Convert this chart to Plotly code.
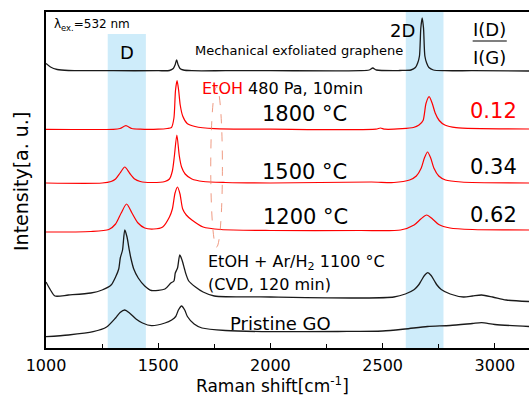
import plotly.graph_objects as go

# ---- data (Raman shift in cm-1, intensity in arbitrary offset units) ----
x_graphene = [1000, 1020, 1050, 1100, 1300, 1500, 1550, 1567, 1575, 1582, 1589, 1597, 1612, 1650, 1800, 2000,
              2400, 2440, 2456, 2472, 2550, 2576, 2626, 2646, 2656, 2664, 2670, 2676, 2682, 2688, 2696, 2706,
              2726, 2776, 2900, 3152]
y_graphene = [284.5, 281, 278.5, 277.5, 277.3, 277.3, 277.5, 279.5, 283, 288, 283, 279.5, 278, 277.3, 277.3, 277.3,
              277.3, 278, 280, 278, 277.3, 277.5, 278, 280.5, 285, 292, 320, 330, 320, 292, 285, 280.5,
              278, 277.3, 277.3, 277]

x_1800 = [1000, 1300, 1330, 1356, 1382, 1420, 1500, 1540, 1559, 1570, 1577, 1584, 1591, 1598, 1609, 1629, 1664,
          1750, 2000, 2470, 2490, 2510, 2587, 2637, 2662, 2680, 2693, 2707, 2721, 2734, 2752, 2777, 2827, 3152]
y_1800 = [218.7, 218.7, 219.5, 222.3, 219.5, 218.8, 218.8, 219.5, 220.5, 230, 257.6, 267.3, 257.6, 243, 232, 224.5, 221.5,
          219.3, 218.8, 218.8, 220, 218.8, 219.3, 220.5, 223, 227.5, 244.5, 251.3, 244.5, 235, 227.5, 223, 220.3, 219]

x_1500 = [1000, 1250, 1290, 1310, 1330, 1351, 1372, 1395, 1420, 1470, 1530, 1550, 1563, 1572, 1583, 1594, 1604,
          1620, 1650, 1700, 1800, 2000, 2450, 2550, 2620, 2650, 2672, 2686, 2700, 2714, 2728, 2750, 2780, 2850, 3152]
y_1500 = [165, 165, 166.5, 169, 175, 181, 175, 169, 166.5, 165.5, 166.5, 169, 177, 192, 213, 192, 181,
          174, 169, 166.5, 165.5, 165, 166, 165.5, 168, 172, 180, 190, 196, 190, 180, 172, 168, 166, 165]

x_1200 = [1000, 1200, 1280, 1310, 1335, 1359, 1383, 1410, 1440, 1480, 1520, 1550, 1563, 1575, 1586, 1597, 1609,
          1625, 1650, 1700, 1780, 2000, 2400, 2580, 2640, 2670, 2696, 2722, 2750, 2800, 2900, 3152]
y_1200 = [116, 116.5, 118.5, 124, 135, 144, 135, 125, 120, 119, 121, 131, 139, 155, 161, 154, 139,
          133, 128, 121, 118.5, 117.5, 117.5, 118, 123, 129, 133, 129, 123.5, 120, 118.5, 118]

x_cvd = [1000, 1020, 1040, 1100, 1200, 1250, 1290, 1311, 1324, 1331, 1341, 1351, 1361, 1371, 1378, 1391, 1411, 1440,
         1470, 1530, 1556, 1570, 1576, 1586, 1596, 1606, 1616, 1622, 1636, 1666, 1700, 1750, 2000, 2400, 2550, 2601,
         2641, 2660, 2671, 2686, 2701, 2716, 2731, 2742, 2761, 2801, 2860, 2900, 2941, 2990, 3050, 3152]
y_cvd = [66, 58, 52, 53, 55, 58, 63, 71.5, 79, 90, 98, 118, 111, 98, 90, 79, 70, 62,
         57.5, 59, 65, 67, 75, 80, 93, 88, 80, 75, 67, 61, 56, 52, 51, 50, 51, 54,
         58.5, 63, 67, 72.5, 75.3, 72.5, 67, 63, 58.5, 54, 51, 52, 53, 51, 48, 46.5]

x_go = [1000, 1100, 1210, 1270, 1310, 1330, 1351, 1372, 1401, 1430, 1470, 1530, 1560, 1578, 1590, 1604, 1618, 1630,
        1660, 1695, 1800, 2000, 2300, 2500, 2600, 2700, 2800, 2900, 2941, 3000, 3152]
y_go = [11.3, 13, 16.3, 21, 30, 35.5, 38, 35, 29, 25, 22.3, 25, 28, 31.5, 38, 42, 38, 31.5,
        24, 20, 17.5, 16.3, 16.5, 17, 19, 21.5, 22.5, 24.5, 25.3, 23.5, 21.5]

band_d = [1275, 1445]
band_2d = [2603, 2771]
ratio_labels = ["0.12", "0.34", "0.62"]
temp_labels = ["1800 \u00b0C", "1500 \u00b0C", "1200 \u00b0C"]
x_ticks = [1000, 1500, 2000, 2500, 3000]

FONT = "DejaVu Sans, Arial, sans-serif"
BLACK = "#1a1a1a"
RED = "#ff0000"

fig = go.Figure()

series = [
    (x_graphene, y_graphene, BLACK, 1.3),
    (x_1800, y_1800, RED, 1.2),
    (x_1500, y_1500, RED, 1.2),
    (x_1200, y_1200, RED, 1.2),
    (x_cvd, y_cvd, BLACK, 1.3),
    (x_go, y_go, BLACK, 1.3),
]
for xs, ys, col, w in series:
    fig.add_trace(go.Scatter(x=xs, y=ys, mode="lines",
                             line=dict(color=col, width=w, shape="spline", smoothing=0.7),
                             showlegend=False, hoverinfo="skip"))

band_col = "rgb(206,236,250)"
fig.add_shape(type="rect", xref="x", yref="y", x0=band_d[0], x1=band_d[1], y0=0, y1=314,
              fillcolor=band_col, line=dict(width=0), layer="below")
fig.add_shape(type="rect", xref="x", yref="paper", x0=band_2d[0], x1=band_2d[1], y0=0, y1=1,
              fillcolor=band_col, line=dict(width=0), layer="below")

# dashed ellipse
fig.add_shape(type="circle", xref="x", yref="y", x0=1734, x1=1786, y0=101, y1=261,
              line=dict(color="rgba(235,130,100,0.8)", width=1, dash="dash"))

# fraction line
fig.add_shape(type="line", xref="x", yref="y", x0=2901, x1=3053, y0=307, y1=307,
              line=dict(color="black", width=1.2))

def ann(x, y, text, size, color="black", xanchor="center", **kw):
    fig.add_annotation(x=x, y=y, xref="x", yref="y", text=text, showarrow=False,
                       font=dict(family=FONT, size=size, color=color),
                       xanchor=xanchor, yanchor="middle", **kw)

ann(1026, 323, "\u03bb<sub>ex.</sub>=532 nm", 12, xanchor="left")
ann(1360, 296, "D", 18)
ann(1654, 298, "Mechanical exfoliated graphene", 13, xanchor="left")
ann(2588, 318, "2D", 18)
ann(2977, 319, "I(D)", 18)
ann(2977, 291, "I(G)", 18)
ann(1685, 260, "<span style='color:#ff0000'>EtOH</span> 480 Pa, 10min", 16, xanchor="left")
ann(2150, 234, temp_labels[0], 21)
ann(2150, 176, temp_labels[1], 21)
ann(2155, 131, temp_labels[2], 21)
ann(2993, 237, ratio_labels[0], 21, color=RED)
ann(2993, 181, ratio_labels[1], 21)
ann(2993, 133, ratio_labels[2], 21)
ann(1712, 86, "EtOH + Ar/H<sub>2</sub> 1100 \u00b0C", 16, xanchor="left")
ann(1712, 64, "(CVD, 120 min)", 16, xanchor="left")
ann(1811, 25, "Pristine GO", 18, xanchor="left")

# axis titles
fig.add_annotation(x=-25 / 483, y=(348 - 182) / 336, xref="paper", yref="paper", text="Intensity[a. u.]",
                   textangle=-90, showarrow=False, font=dict(family=FONT, size=19, color="black"),
                   xanchor="center", yanchor="middle")
fig.add_annotation(x=2010, y=-37 / 336, xref="x", yref="paper", text="Raman shift[cm<sup>-1</sup>]",
                   showarrow=False, font=dict(family=FONT, size=17, color="black"),
                   xanchor="center", yanchor="middle")

fig.update_xaxes(range=[1000, 3152], tickvals=x_ticks, ticktext=[str(v) for v in x_ticks],
                 ticks="inside", ticklen=5, tickwidth=1.2, tickcolor="black",
                 minor=dict(ticks="inside", ticklen=4, tickwidth=1.2, tickcolor="black", dtick=250, tick0=1000),
                 showline=True, linecolor="black", linewidth=1.5, mirror=True,
                 showgrid=False, zeroline=False,
                 tickfont=dict(family=FONT, size=16, color="black"), ticklabelstandoff=2)
fig.update_yaxes(range=[0, 336], showticklabels=False, ticks="", showline=True, linecolor="black",
                 linewidth=1.5, showgrid=False, zeroline=False)

fig.update_layout(width=529, height=398, margin=dict(l=46, r=0, t=12, b=50),
                  plot_bgcolor="white", paper_bgcolor="white")

fig.write_html("out.html", config={"displayModeBar": False},
               post_script="document.body.style.margin='0';document.body.style.overflow='hidden';")
